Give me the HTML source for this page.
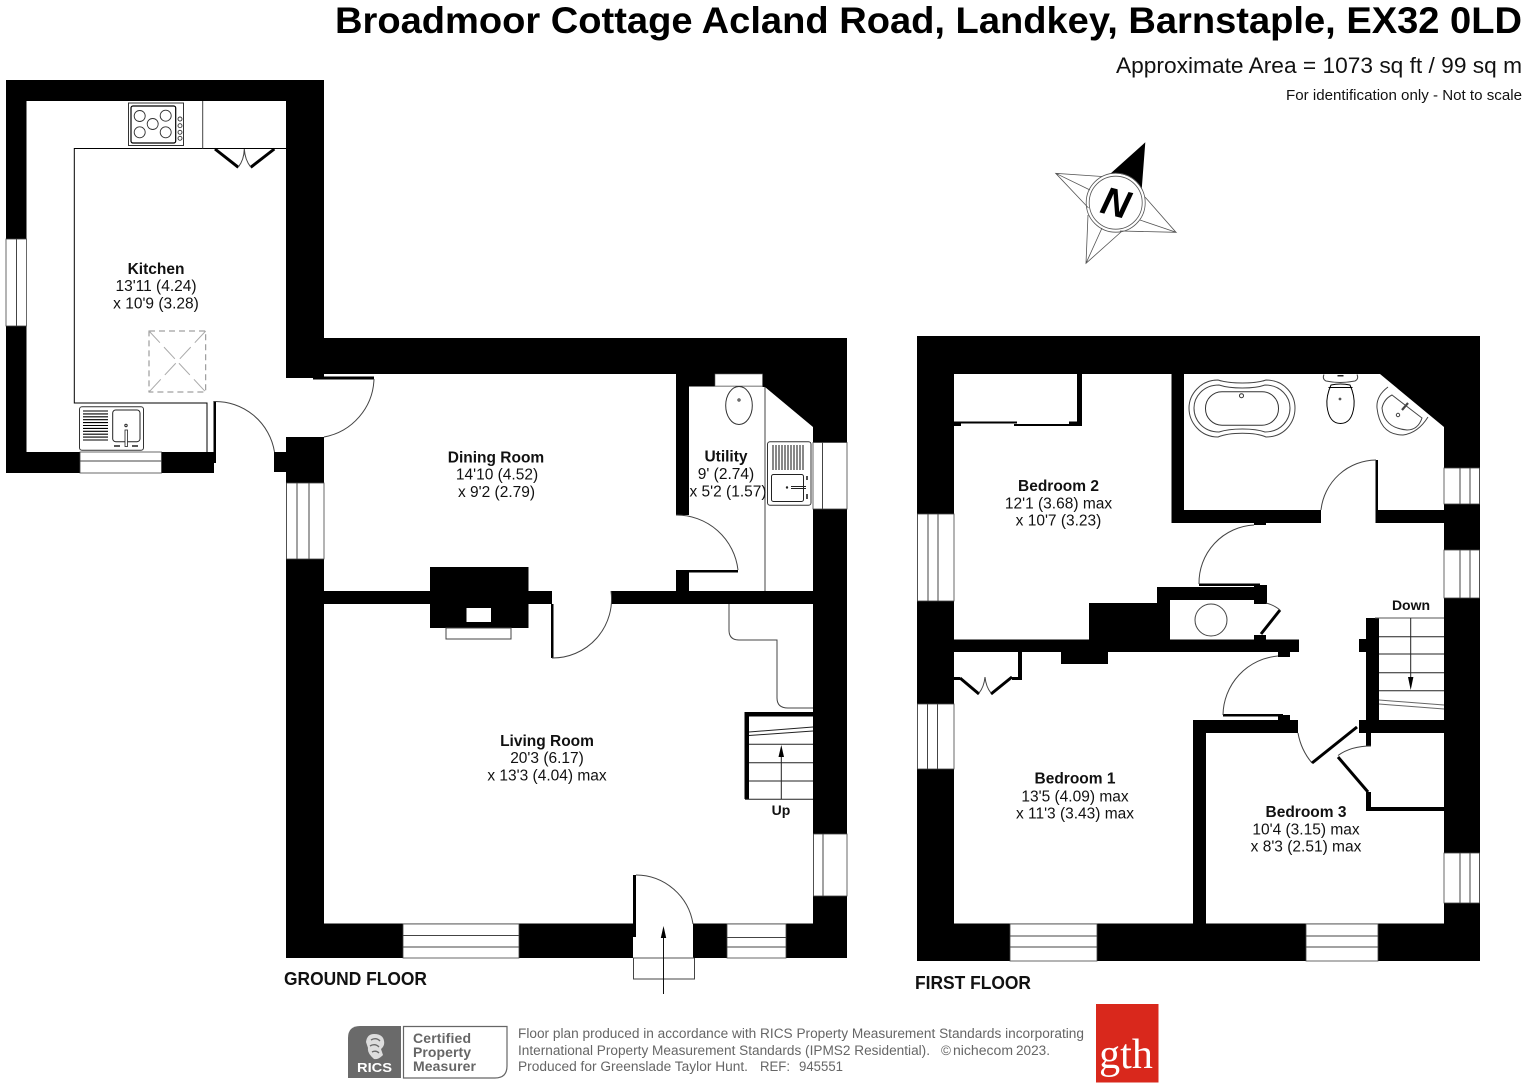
<!DOCTYPE html>
<html><head><meta charset="utf-8"><title>Broadmoor Cottage Floor Plan</title>
<style>
html,body{margin:0;padding:0;background:#fff}
svg{display:block;font-family:"Liberation Sans",sans-serif}
.w{fill:#000}
.win{fill:#fff;stroke:#444;stroke-width:.8}
.t{fill:none;stroke:#444;stroke-width:1}
.k{fill:none;stroke:#000;stroke-width:1}
.th{fill:none;stroke:#000;stroke-width:3}
.b{font-weight:bold;font-size:15.5px;fill:#111;text-anchor:middle}
.n{font-size:15.5px;fill:#111;text-anchor:middle}
.f{font-size:13.5px;fill:#666}
.c{font-size:14px;font-weight:bold;fill:#666}
</style></head><body>
<svg width="1527" height="1088" viewBox="0 0 1527 1088" xmlns="http://www.w3.org/2000/svg">
<rect width="1527" height="1088" fill="#fff"/>

<!-- Header -->
<text x="335" y="33" font-size="37" font-weight="bold" fill="#000" textLength="1187" lengthAdjust="spacingAndGlyphs">Broadmoor Cottage Acland Road, Landkey, Barnstaple, EX32 0LD</text>
<text x="1116" y="73" font-size="22" fill="#111" textLength="406" lengthAdjust="spacingAndGlyphs">Approximate Area = 1073 sq ft / 99 sq m</text>
<text x="1286" y="100" font-size="15" fill="#111" textLength="236" lengthAdjust="spacingAndGlyphs">For identification only - Not to scale</text>

<!-- Compass -->
<g>
<path d="M1110,174 L1145.3,142.3 L1141.7,189.3 A29.5,29.5 0 0 0 1110,174Z" fill="#000"/>
<g fill="none" stroke="#555" stroke-width=".8">
<circle cx="1115.7" cy="202.7" r="29.5"/>
<circle cx="1115.7" cy="202.7" r="26.5"/>
<path d="M1102,176.5 L1055.7,173.3 L1088.5,208 M1055.7,173.3 L1090,190"/>
<path d="M1145,197 L1176,232.3 L1140,220 M1176,232.3 L1120,231"/>
<path d="M1088,215 L1086,263.3 L1121,232 M1086,263.3 L1102,228"/>
</g>
<text x="1115.7" y="216" font-size="39" font-weight="bold" font-style="italic" fill="#000" text-anchor="middle" transform="rotate(14 1115.7 203)">N</text>
</g>

<!-- ========== GROUND FLOOR ========== -->
<g class="w">
<rect x="6" y="80" width="318" height="21"/>
<rect x="6" y="80" width="20.5" height="393"/>
<rect x="286" y="80" width="38" height="298"/>
<rect x="6" y="452" width="208" height="21"/>
<rect x="274" y="452" width="12" height="20"/>
<rect x="286" y="437" width="38" height="521"/>
<rect x="324" y="338" width="523" height="36"/>
<rect x="813" y="338" width="34" height="620"/>
<rect x="286" y="923.5" width="347" height="34.5"/>
<rect x="693" y="923.5" width="154" height="34.5"/>
<rect x="676" y="374" width="13" height="141"/>
<rect x="676" y="570" width="13" height="21"/>
<rect x="689" y="374" width="74" height="12.5"/>
<polygon points="762.5,374 813,374 813,427 765,387 762.5,387"/>
<rect x="324" y="591" width="228" height="13"/>
<rect x="611" y="591" width="202" height="13"/>
<rect x="430" y="567" width="98.5" height="61"/>
<rect x="744.5" y="712" width="68.5" height="4.5"/>
<rect x="744.5" y="712" width="4.5" height="87"/>
<rect x="213.5" y="401" width="2.5" height="62"/>
<rect x="313" y="376.5" width="61" height="3"/>
<rect x="551" y="604" width="2.5" height="54"/>
<rect x="680" y="570" width="58" height="2.5"/>
<rect x="633" y="875" width="3" height="62"/>
</g>
<!-- cistern + fireplace inset -->
<rect x="715" y="374" width="47.5" height="12" fill="#fff" stroke="#666" stroke-width=".6"/>
<rect x="466.5" y="608" width="24.5" height="14" fill="#fff"/>
<rect x="446" y="628" width="65" height="11" fill="#fff" stroke="#444"/>

<!-- windows ground -->
<rect class="win" x="6" y="239" width="20.5" height="87"/><line class="t" x1="16.5" y1="239" x2="16.5" y2="326"/>
<rect class="win" x="80" y="452" width="81.5" height="21"/><line class="t" x1="80" y1="461" x2="161.5" y2="461"/>
<rect class="win" x="286.5" y="483" width="37.5" height="76"/><line class="t" x1="297" y1="483" x2="297" y2="559"/><line class="t" x1="309" y1="483" x2="309" y2="559"/>
<rect class="win" x="813" y="442.5" width="34" height="66.5"/><line class="t" x1="822.5" y1="442.5" x2="822.5" y2="509"/>
<rect class="win" x="813.5" y="834" width="33.5" height="62"/><line class="t" x1="823" y1="834" x2="823" y2="896"/>
<rect class="win" x="403" y="924" width="116" height="34"/><line class="t" x1="403" y1="935.5" x2="519" y2="935.5"/><line class="t" x1="403" y1="947" x2="519" y2="947"/>
<rect class="win" x="727" y="924" width="59" height="34"/><line class="t" x1="727" y1="937.5" x2="786" y2="937.5"/><line class="t" x1="727" y1="947" x2="786" y2="947"/>

<!-- kitchen fittings -->
<path class="k" d="M286,148.5 H74.3 V403 H207 V452"/>
<line class="t" x1="202.7" y1="101" x2="202.7" y2="148.5"/>
<rect x="128.5" y="103" width="55" height="42.5" fill="#fff" stroke="#333"/>
<rect x="131" y="106" width="44.7" height="37" rx="2" fill="none" stroke="#000" stroke-width="1.2"/>
<g fill="none" stroke="#333" stroke-width=".9">
<circle cx="139.7" cy="116" r="5.5"/><circle cx="165.7" cy="115.7" r="5.5"/><circle cx="152.7" cy="124" r="5.5"/><circle cx="139.7" cy="132.3" r="5.5"/><circle cx="165.7" cy="132.3" r="5.5"/>
<circle cx="180" cy="119" r="2"/><circle cx="180" cy="125.7" r="2"/><circle cx="180" cy="132.3" r="2"/><circle cx="180" cy="138.3" r="2"/>
</g>
<path class="th" d="M215,149 L238.3,167.3 M274.3,149 L250.7,167.3"/>
<path class="t" d="M238.3,167 Q244,160 244.3,149 Q245,160 250.7,167" stroke-width=".7"/>
<rect x="149" y="331" width="56.7" height="61" fill="none" stroke="#888" stroke-width="1" stroke-dasharray="6 4"/>
<path d="M149,331 L205.7,392 M205.7,331 L149,392" stroke="#aaa" stroke-width="1" stroke-dasharray="16 6" fill="none"/>
<rect x="79.5" y="406.7" width="64" height="43.5" rx="2.5" fill="#fff" stroke="#333"/>
<g stroke="#000" stroke-width="1.1">
<line x1="83" x2="108" y1="411" y2="411"/><line x1="83" x2="108" y1="413.9" y2="413.9"/><line x1="83" x2="108" y1="416.8" y2="416.8"/><line x1="83" x2="108" y1="419.7" y2="419.7"/><line x1="83" x2="108" y1="422.6" y2="422.6"/><line x1="83" x2="108" y1="425.5" y2="425.5"/><line x1="83" x2="108" y1="428.4" y2="428.4"/><line x1="83" x2="108" y1="431.3" y2="431.3"/><line x1="83" x2="108" y1="434.2" y2="434.2"/><line x1="83" x2="108" y1="437.1" y2="437.1"/><line x1="83" x2="108" y1="440" y2="440"/>
</g>
<rect x="112.7" y="410" width="27.3" height="31.7" rx="3" fill="#fff" stroke="#222"/>
<rect x="125" y="430" width="2.5" height="16.5" fill="#fff" stroke="#222" stroke-width=".8"/>
<circle cx="126" cy="425.5" r="1.2" fill="none" stroke="#222"/>
<path d="M114,446 h6 M132,446 h6" stroke="#222" stroke-width="1.5"/>

<!-- arcs ground -->
<path class="t" d="M214,401.5 A60,60 0 0 1 274.5,452" />
<path class="t" d="M374,379 A61,61 0 0 1 324,437"/>
<path class="t" d="M611,591 A59,59 0 0 1 552,658"/>
<path class="t" d="M676,515 A62,62 0 0 1 738,570"/>
<path class="t" d="M636,875 A58,58 0 0 1 693,924"/>

<!-- utility fittings -->
<line class="t" x1="765" y1="387" x2="765" y2="591"/>
<ellipse cx="739" cy="405.5" rx="13.3" ry="19" fill="#fff" stroke="#333"/>
<circle cx="739" cy="400" r="1.1" fill="none" stroke="#333"/>
<rect x="767.5" y="441.7" width="43.5" height="63.5" rx="2.5" fill="#fff" stroke="#333"/>
<g stroke="#111" stroke-width="1">
<line x1="773" x2="773" y1="445" y2="470"/><line x1="776" x2="776" y1="445" y2="470"/><line x1="779" x2="779" y1="445" y2="470"/><line x1="782" x2="782" y1="445" y2="470"/><line x1="785" x2="785" y1="445" y2="470"/><line x1="788" x2="788" y1="445" y2="470"/><line x1="791" x2="791" y1="445" y2="470"/><line x1="794" x2="794" y1="445" y2="470"/><line x1="797" x2="797" y1="445" y2="470"/><line x1="800" x2="800" y1="445" y2="470"/><line x1="803" x2="803" y1="445" y2="470"/>
</g>
<rect x="771.5" y="474.5" width="32" height="27" rx="2" fill="none" stroke="#222"/>
<path d="M791,486.5 h15 M791,488.5 h15" stroke="#222" stroke-width=".9"/>
<path d="M807,476 v4 M807,494 v5" stroke="#222" stroke-width="1.6"/>
<circle cx="787" cy="487.5" r="1.2" fill="#222"/>

<!-- stairs cupboard line -->
<path class="t" d="M729,604 V630 Q729,640 739,640 H777 V698 Q777,708 788,708 H813"/>
<!-- stairs up -->
<g stroke="#222" stroke-width="1" fill="none">
<line x1="749" y1="732" x2="813" y2="727"/><line x1="749" y1="735.5" x2="813" y2="731"/>
<line x1="749" y1="744.3" x2="813" y2="744.3"/><line x1="749" y1="762.7" x2="813" y2="762.7"/><line x1="749" y1="781" x2="813" y2="781"/><line x1="745" y1="799.3" x2="813" y2="799.3"/>
<line x1="781.3" y1="799" x2="781.3" y2="750"/>
</g>
<polygon points="781.3,745 778.5,757 784,757" fill="#000"/>
<text x="781" y="815" class="b" style="font-size:14px">Up</text>
<!-- entrance -->
<path class="t" d="M633.5,958 V979 H694.5 V958" stroke="#222"/>
<line x1="633" y1="958" x2="694" y2="958" stroke="#555"/>
<line x1="663.5" y1="994" x2="663.5" y2="932" stroke="#111"/>
<polygon points="663.5,926 660.8,938 666.2,938" fill="#000"/>

<!-- labels ground -->
<text class="b" x="156" y="274">Kitchen</text><text class="n" x="156" y="291">13'11 (4.24)</text><text class="n" x="156" y="308.5">x 10'9 (3.28)</text>
<text class="b" x="496" y="462.5">Dining Room</text><text class="n" x="497" y="479.5">14'10 (4.52)</text><text class="n" x="496.5" y="497">x 9'2 (2.79)</text>
<text class="b" x="726" y="461.5">Utility</text><text class="n" x="726" y="479">9' (2.74)</text><text class="n" x="728" y="496.5">x 5'2 (1.57)</text>
<text class="b" x="547" y="746">Living Room</text><text class="n" x="547" y="763">20'3 (6.17)</text><text class="n" x="547" y="780.5">x 13'3 (4.04) max</text>
<text x="284" y="985" font-size="18" font-weight="bold" fill="#111" textLength="143" lengthAdjust="spacingAndGlyphs">GROUND FLOOR</text>

<!-- ========== FIRST FLOOR ========== -->
<g class="w">
<rect x="917" y="336" width="563" height="38"/>
<rect x="917" y="336" width="37" height="625"/>
<rect x="1444" y="336" width="36" height="625"/>
<rect x="917" y="923.5" width="563" height="37.5"/>
<polygon points="1380,374 1444,374 1444,427"/>
<rect x="1171.5" y="374" width="12.5" height="149"/>
<rect x="1171.5" y="510" width="149.5" height="13"/>
<rect x="1375.5" y="510" width="68.5" height="13"/>
<rect x="1375.5" y="460" width="2.5" height="63"/>
<rect x="1254" y="523" width="12" height="2"/>
<rect x="1077" y="374" width="5" height="52"/>
<rect x="954" y="421.5" width="63" height="2"/><rect x="1014" y="424" width="55" height="2"/>
<rect x="954" y="423" width="7" height="3"/><rect x="1069" y="421.5" width="13" height="4.5"/>
<rect x="1199" y="583.5" width="61" height="2.5"/>
<rect x="1157" y="587" width="110" height="13"/>
<rect x="1254" y="585" width="13" height="19"/>
<rect x="1157" y="587" width="13" height="20"/>
<rect x="1089" y="603" width="81" height="37"/>
<rect x="1254" y="635" width="12" height="5"/>
<rect x="954" y="639.5" width="345" height="12.5"/>
<rect x="1061" y="652" width="47" height="12"/>
<rect x="1278" y="652" width="12" height="5"/>
<rect x="1018" y="652" width="4" height="28"/>
<rect x="1012" y="677" width="10" height="3"/><rect x="954" y="677" width="6" height="3"/>
<rect x="1223" y="714" width="60" height="2.5"/>
<rect x="1278" y="715" width="12" height="5"/>
<rect x="1193" y="720" width="105" height="13"/>
<rect x="1193" y="720" width="13" height="204"/>
<rect x="1366" y="618" width="13" height="102"/>
<rect x="1359" y="639" width="7" height="13"/>
<rect x="1359" y="720" width="85" height="13"/>
<rect x="1366" y="733" width="5" height="13"/>
<rect x="1366" y="792" width="5" height="18"/>
<rect x="1366" y="807" width="78" height="4"/>
</g>
<!-- windows first -->
<rect class="win" x="917.5" y="514" width="36.5" height="87"/><line class="t" x1="928" y1="514" x2="928" y2="601"/><line class="t" x1="938" y1="514" x2="938" y2="601"/>
<rect class="win" x="917.5" y="704" width="36.5" height="65"/><line class="t" x1="927.5" y1="704" x2="927.5" y2="769"/><line class="t" x1="937.5" y1="704" x2="937.5" y2="769"/>
<rect class="win" x="1444" y="468" width="35.5" height="36"/><line class="t" x1="1460" y1="468" x2="1460" y2="504"/><line class="t" x1="1470" y1="468" x2="1470" y2="504"/>
<rect class="win" x="1444" y="550" width="35.5" height="48"/><line class="t" x1="1460" y1="550" x2="1460" y2="598"/><line class="t" x1="1470" y1="550" x2="1470" y2="598"/>
<rect class="win" x="1444" y="853" width="35.5" height="50"/><line class="t" x1="1460" y1="853" x2="1460" y2="903"/><line class="t" x1="1470" y1="853" x2="1470" y2="903"/>
<rect class="win" x="1010" y="924" width="87" height="37"/><line class="t" x1="1010" y1="936" x2="1097" y2="936"/><line class="t" x1="1010" y1="947" x2="1097" y2="947"/>
<rect class="win" x="1306" y="924" width="72" height="37"/><line class="t" x1="1306" y1="936" x2="1378" y2="936"/><line class="t" x1="1306" y1="947" x2="1378" y2="947"/>

<!-- bathroom -->
<path class="t" d="M1218,380 C1230,384 1255,384 1266,380 C1285,380 1295,395 1295,408 C1295,422 1285,437 1266,437 C1255,432 1230,432 1218,437 C1200,437 1189,422 1189,408 C1189,395 1200,380 1218,380Z"/>
<path class="t" d="M1219,385 C1231,389 1254,389 1265,385 C1281,385 1290,397 1290,408 C1290,420 1281,432 1265,432 C1254,428 1231,428 1219,432 C1203,432 1194,420 1194,408 C1194,397 1203,385 1219,385Z"/>
<rect x="1205.5" y="391.7" width="73" height="33.5" rx="16.5" fill="none" stroke="#333"/>
<circle cx="1241.5" cy="395.7" r="2" fill="none" stroke="#333"/>
<path class="t" d="M1324,374.5 Q1322,379 1326,381 Q1340,384 1355,381 Q1359,379 1357,374.5"/>
<rect x="1337.5" y="375" width="6" height="1.5" fill="#222"/>
<path class="k" d="M1331,385 Q1340.5,383 1350,385 Q1355,396 1354,406 Q1352,423.5 1340.5,423.5 Q1329,423.5 1327,406 Q1326,396 1331,385Z M1328.5,387.5 H1352.5" stroke="#222"/>
<circle cx="1340" cy="399" r="1.4" fill="#555"/>
<path class="t" d="M1388,387 Q1376,396 1377,408 Q1380,435 1403,435 Q1418,433 1428,417"/>
<path class="t" d="M1392,395 L1422,418 Q1418,430 1407,430 Q1384,428 1382,408 Q1384,399 1392,395Z"/>
<path d="M1408,403 L1402,410" stroke="#444" stroke-width="2.2"/>
<circle cx="1398" cy="415" r="1.7" fill="none" stroke="#444"/>

<!-- flue -->
<ellipse cx="1211" cy="620" rx="16" ry="16" fill="#fff" stroke="#444"/>
<path d="M1261,634 L1280,610" stroke="#000" stroke-width="3"/>
<path class="t" d="M1266,603 Q1274,605 1280,610" stroke-width=".8"/>

<!-- arcs first -->
<path class="t" d="M1376,460 A56,56 0 0 0 1321,510"/>
<path class="t" d="M1254,525 A58,58 0 0 0 1199,584"/>
<path class="t" d="M1278,656 A60,60 0 0 0 1223,715"/>
<path class="t" d="M1298,733 Q1301,750 1312,763"/>
<path class="t" d="M1371,746 Q1351,746 1338,755.5"/>
<path d="M1312,763 L1357,727" stroke="#000" stroke-width="3"/>
<path d="M1338,757 L1368,792" stroke="#000" stroke-width="3"/>
<path d="M960,678 L979,694 M1012,677 L991,694" stroke="#000" stroke-width="3" fill="none"/>
<path class="t" d="M979,693 Q984,687 985,677 Q986,687 991,693" stroke-width=".7"/>

<!-- stairs down -->
<g stroke="#222" stroke-width="1" fill="none">
<line x1="1375" y1="618" x2="1444" y2="618" stroke="#555"/>
<line x1="1379" y1="636.7" x2="1444" y2="636.7"/><line x1="1379" y1="654" x2="1444" y2="654"/><line x1="1379" y1="672.7" x2="1444" y2="672.7"/><line x1="1379" y1="690.7" x2="1444" y2="690.7"/>
<line x1="1379" y1="700" x2="1444" y2="705" stroke="#666"/><line x1="1379" y1="704" x2="1444" y2="709" stroke="#666"/>
<line x1="1410.7" y1="618" x2="1410.7" y2="682"/>
</g>
<polygon points="1410.7,690 1408,677 1413.4,677" fill="#000"/>
<text class="b" x="1411" y="610" style="font-size:14px">Down</text>

<!-- labels first -->
<text class="b" x="1058.5" y="491">Bedroom 2</text><text class="n" x="1058.5" y="508.5">12'1 (3.68) max</text><text class="n" x="1058.5" y="525.5">x 10'7 (3.23)</text>
<text class="b" x="1075" y="783.5">Bedroom 1</text><text class="n" x="1075" y="801.5">13'5 (4.09) max</text><text class="n" x="1075" y="818.5">x 11'3 (3.43) max</text>
<text class="b" x="1306" y="817">Bedroom 3</text><text class="n" x="1306" y="834.5">10'4 (3.15) max</text><text class="n" x="1306" y="851.5">x 8'3 (2.51) max</text>
<text x="915" y="989" font-size="18" font-weight="bold" fill="#111" textLength="116" lengthAdjust="spacingAndGlyphs">FIRST FLOOR</text>

<!-- ========== FOOTER ========== -->
<path d="M360,1026 H401 V1078 H348 V1038 Q348,1026 360,1026Z" fill="#6a6a6a"/>
<path d="M403.5,1026.5 H507 V1066 Q507,1078 495,1078 H403.5Z" fill="#fff" stroke="#666" stroke-width="1.2"/>
<path d="M366,1042 Q367,1034 374,1034 Q383,1034 384,1041 Q385,1046 381,1049 L383,1055 Q378,1060 374,1059 Q367,1053 368,1048Z" fill="#ddd"/>
<path d="M371,1040 Q376,1037 380,1041 M370,1046 Q375,1043 379,1047 M372,1052 Q376,1050 379,1053" fill="none" stroke="#6a6a6a" stroke-width="1.4"/>
<text x="357" y="1072" font-size="13" font-weight="bold" fill="#fff" textLength="35" lengthAdjust="spacingAndGlyphs">RICS</text>
<text class="c" x="413" y="1043" textLength="58" lengthAdjust="spacing">Certified</text>
<text class="c" x="413" y="1057" textLength="58" lengthAdjust="spacing">Property</text>
<text class="c" x="413" y="1071" textLength="63" lengthAdjust="spacing">Measurer</text>
<text class="f" x="518" y="1038" textLength="566" lengthAdjust="spacingAndGlyphs">Floor plan produced in accordance with RICS Property Measurement Standards incorporating</text>
<text class="f" x="518" y="1055" textLength="412" lengthAdjust="spacingAndGlyphs">International Property Measurement Standards (IPMS2 Residential).</text>
<text class="f" x="941" y="1055">©</text>
<text class="f" x="953" y="1055" textLength="60" lengthAdjust="spacingAndGlyphs">nichecom</text>
<text class="f" x="1016" y="1055" textLength="34" lengthAdjust="spacingAndGlyphs">2023.</text>
<text class="f" x="518" y="1071" textLength="230" lengthAdjust="spacingAndGlyphs">Produced for Greenslade Taylor Hunt.</text>
<text class="f" x="760" y="1071" textLength="30" lengthAdjust="spacingAndGlyphs">REF:</text>
<text class="f" x="799" y="1071" textLength="44" lengthAdjust="spacingAndGlyphs">945551</text>
<rect x="1096" y="1004" width="62.5" height="78.5" fill="#d9281c"/>
<text x="1126" y="1068" font-size="42" fill="#fff" text-anchor="middle" style="font-family:'Liberation Serif',serif">gth</text>
</svg>
</body></html>
